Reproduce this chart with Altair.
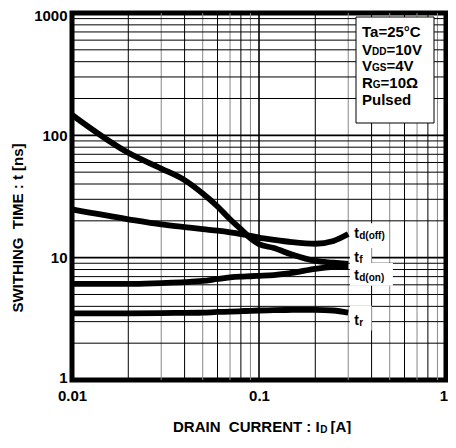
import altair as alt
import pandas as pd

# ---------------- data ----------------
x_pts = [0.01, 0.02, 0.03, 0.04, 0.05, 0.06, 0.07, 0.08, 0.09, 0.1, 0.12, 0.15, 0.2, 0.25, 0.3]
td_off = [24.8, 20.6, 18.7, 17.8, 17.1, 16.6, 16.1, 15.6, 15.1, 14.6, 14.0, 13.4, 13.0, 13.7, 15.6]
t_f = [147, 72, 53.5, 43, 33.4, 26.2, 20.6, 17.1, 14.4, 12.9, 12.0, 10.6, 9.4, 9.1, 8.9]
td_on = [6.1, 6.1, 6.2, 6.3, 6.45, 6.7, 6.9, 7.0, 7.05, 7.1, 7.2, 7.5, 8.1, 8.4, 8.5]
t_r = [3.5, 3.5, 3.52, 3.54, 3.55, 3.6, 3.62, 3.65, 3.68, 3.7, 3.72, 3.74, 3.75, 3.7, 3.55]
series_names = ["td(off)", "tf", "td(on)", "tr"]

label_main = ["t", "t", "t", "t"]
label_sub = ["d(off)", "f", "d(on)", "r"]
label_y = [15.6, 10.0, 7.1, 3.06]
label_x = 0.323
box_x2 = [0.49, 0.40, 0.52, 0.40]
box_top = [19.1, 12.0, 9.05, 4.05]
box_bottom = [12.0, 9.05, 5.9, 2.54]

x_ticks = [0.01, 0.1, 1]
y_ticks = [1, 10, 100, 1000]
minor = [2, 3, 4, 5, 6, 7, 8, 9]

FONT = "Liberation Sans"
NB = "\u00a0"

# ---------------- tables ----------------
curves = pd.DataFrame({
    "x": x_pts * 4,
    "y": td_off + t_f + td_on + t_r,
    "series": sum([[n] * len(x_pts) for n in series_names], []),
})
vgrid = pd.DataFrame({
    "x": [m * 10.0 ** k for k in (-2, -1) for m in minor] + [0.1],
    "c": [("#888888" if m % 2 else "#000000") for k in (-2, -1) for m in minor] + ["#000000"],
    "w": [1.0] * 16 + [1.6],
})
hgrid = pd.DataFrame({
    "y": [m * 10.0 ** k for k in (0, 1, 2) for m in minor] + [10, 100],
    "w": [1.0] * 24 + [1.6, 1.6],
})
labels = pd.DataFrame({
    "x": [label_x] * 4, "y": label_y, "main": label_main, "sub": label_sub,
    "bx": [0.306] * 4, "bx2": box_x2, "by": box_top, "by2": box_bottom,
})

xs = alt.Scale(type="log", domain=[0.01, 1], nice=False)
ys = alt.Scale(type="log", domain=[1, 1000], nice=False)

x_axis = alt.Axis(values=x_ticks, format="~g", title=None, domain=False, ticks=False, grid=False,
                  labelFont=FONT, labelFontSize=15, labelFontWeight="bold", labelColor="black",
                  labelPadding=8, labelFlush=False,
                  labelOffset={"condition": {"test": "datum.value >= 1", "value": -2.5}, "value": 0})
y_axis = alt.Axis(values=y_ticks, format="~g", title=None, domain=False, ticks=False, grid=False,
                  labelFont=FONT, labelFontSize=15, labelFontWeight="bold", labelColor="black",
                  labelPadding=5, labelFlush=False,
                  labelOffset={"condition": [{"test": "datum.value <= 1", "value": -3},
                                             {"test": "datum.value >= 1000", "value": 2}],
                               "value": 0})


def X(f):
    return alt.X(f, scale=xs, axis=x_axis)


def Y(f):
    return alt.Y(f, scale=ys, axis=y_axis)


vrules = alt.Chart(vgrid).mark_rule().encode(
    x=X("x:Q"),
    color=alt.Color("c:N", scale=None),
    strokeWidth=alt.StrokeWidth("w:Q", scale=None),
)
hrules = alt.Chart(hgrid).mark_rule(color="black").encode(
    y=Y("y:Q"),
    strokeWidth=alt.StrokeWidth("w:Q", scale=None),
)
boxes = alt.Chart(labels).mark_rect(color="white").encode(
    x=X("bx:Q"), x2="bx2:Q", y=Y("by:Q"), y2="by2:Q",
)
lines = alt.Chart(curves).mark_line(color="black", strokeWidth=5.8, interpolate="monotone").encode(
    x=X("x:Q"), y=Y("y:Q"), detail="series:N",
)
lab_main = alt.Chart(labels).mark_text(font=FONT, fontSize=14, fontWeight="bold", align="left",
                                       baseline="middle", color="black").encode(
    x=X("x:Q"), y=Y("y:Q"), text="main:N")
lab_sub = alt.Chart(labels).mark_text(font=FONT, fontSize=10, fontWeight="bold", align="left",
                                      baseline="middle", color="black", dx=5, dy=2).encode(
    x=X("x:Q"), y=Y("y:Q"), text="sub:N")

one = pd.DataFrame({"a": [0]})


def txt(s, x, y, size=15, angle=0, align="left"):
    return alt.Chart(one).mark_text(font=FONT, fontSize=size, fontWeight="bold", align=align,
                                    baseline="middle", color="black", angle=angle).encode(
        x=alt.value(x), y=alt.value(y), text=alt.value(s))


legend_box = alt.Chart(one).mark_rect(fill="white", stroke="black", strokeWidth=1).encode(
    x=alt.value(284), x2=alt.value(362), y=alt.value(4), y2=alt.value(110))

legend_txt = [
    txt("Ta=25°C", 290, 19),
    txt("V", 290, 36.5), txt("DD", 300, 38.5, 10), txt("=10V", 314.5, 36.5),
    txt("V", 290, 53), txt("GS", 300, 55, 10), txt("=4V", 314.5, 53),
    txt("R", 290, 70), txt("G", 300.8, 72, 10), txt("=10Ω", 308.6, 70),
    txt("Pulsed", 290, 87),
]
x_title = [
    txt("DRAIN" + NB + NB + "CURRENT" + NB + ":" + NB + "I", 247.7, 414, align="right"),
    txt("D", 248.2, 417, 10),
    txt("[A]", 258.5, 414),
]
y_title = [txt("SWITHING" + NB + NB + "TIME" + NB + ":" + NB + "t" + NB + "[ns]", -54, 215, 15, 270, "center")]

chart = alt.layer(
    vrules, hrules, boxes, lines, lab_main, lab_sub, legend_box, *legend_txt, *x_title, *y_title
).properties(
    width=374, height=367,
    autosize=alt.AutoSizeParams(type="none"),
    padding={"left": 64, "top": 5, "right": 2, "bottom": 54},
).configure_view(stroke="black", strokeWidth=5)

chart.save("out.html", embed_options={"renderer": "svg", "actions": False})
